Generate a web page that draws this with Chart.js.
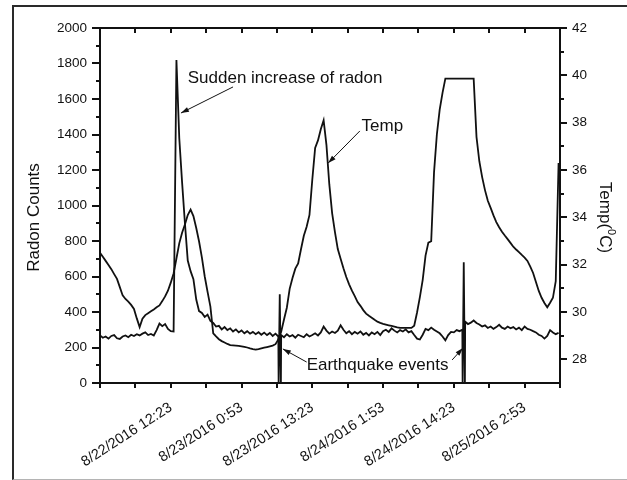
<!DOCTYPE html>
<html>
<head>
<meta charset="utf-8">
<script src="https://cdn.jsdelivr.net/npm/chart.js@4.4.1/dist/chart.umd.min.js"></script>
<style>
  html, body { margin: 0; padding: 0; background: #fff; }
  #wrap { position: relative; width: 627px; height: 480px; overflow: hidden; }
  #frame { position: absolute; left: 12px; top: 5px; width: 640px; height: 472px;
           border-left: 2px solid #2a2a2a; border-top: 2px solid #2a2a2a; border-bottom: 1px solid #b4b4b4;
           pointer-events: none; }
</style>
</head>
<body>
<div id="wrap">
  <canvas id="myChart" width="627" height="480"></canvas>
  <div id="frame"></div>
</div>
<script>
// logger samples every half hour, first sample at 8/21/2016 23:53
const STEP = 0.5;
const X_MAX = 81.25, X_TICK = 6.25;

const radonCounts = [
  268,255,262,250,265,270,252,248,262,268,
  258,272,265,275,268,278,285,270,276,268,
  298,335,320,332,305,292,290,1820,1380,1130,
  900,690,630,585,470,405,395,372,385,350,
  338,318,322,302,315,298,308,290,302,285,
  296,280,292,278,288,275,286,272,284,270,
  282,265,278,262,270,258,275,262,270,255,
  272,265,258,275,262,270,280,268,285,318,
  295,278,290,282,295,325,300,280,292,275,
  288,278,290,272,282,268,285,275,288,270,
  292,300,288,308,295,285,298,290,302,285,
  292,270,250,245,272,305,298,312,300,290,
  280,262,240,270,288,285,298,292,300,345,
  332,340,352,338,330,318,325,310,318,305,
  315,328,312,305,318,308,315,302,312,298,
  318,305,300,292,285,272,265,250,265,298,
  285,275,282
];

const tempC = [
  32.5,32.33,32.16,31.99,31.81,31.6,31.4,31.05,30.7,30.55,
  30.44,30.3,30.13,29.73,29.36,29.72,29.87,29.95,30.03,30.11,
  30.2,30.28,30.46,30.66,30.9,31.24,31.63,32.26,32.9,33.35,
  33.7,34.1,34.33,34.05,33.55,32.98,32.3,31.5,30.85,30.23,
  29.1,28.97,28.85,28.77,28.71,28.65,28.6,28.59,28.58,28.57,
  28.55,28.53,28.5,28.46,28.43,28.41,28.43,28.46,28.49,28.52,
  28.55,28.58,28.64,28.84,29.17,29.68,30.18,30.98,31.44,31.83,
  32.05,32.65,33.22,33.6,34.1,35.6,36.93,37.25,37.72,38.1,
  37.05,35.4,34.18,33.37,32.66,32.25,31.85,31.48,31.17,30.9,
  30.67,30.42,30.26,30.08,29.93,29.84,29.76,29.67,29.59,29.54,
  29.5,29.47,29.44,29.41,29.38,29.35,29.33,29.33,29.33,29.33,
  29.33,29.42,29.98,30.63,31.36,32.38,32.93,32.99,35.9,37.5,
  38.55,39.26,39.86,39.86,39.86,39.86,39.86,39.86,39.86,39.86,
  39.86,39.86,39.86,37.4,36.37,35.7,35.15,34.7,34.4,34.08,
  33.8,33.58,33.39,33.23,33.08,32.92,32.76,32.64,32.53,32.41,
  32.3,32.16,31.92,31.65,31.27,30.89,30.6,30.38,30.2,30.39,
  30.6,31.3,36.3
];

// earthquake pulses in the radon record (hours from start, peak counts)
const quakeHours = [31.75, 64.25];
const quakeCounts = [500, 680];

const xTickLabels = ['8/22/2016 12:23', '8/23/2016 0:53', '8/23/2016 13:23',
                     '8/24/2016 1:53', '8/24/2016 14:23', '8/25/2016 2:53'];

// callouts in data units: [hours, radon counts]
const notes = [
  { text: 'Sudden increase of radon', at: [15.5, 1718], arrows: [[[23.5, 1668], [14.3, 1521]]] },
  { text: 'Temp', at: [46.2, 1448], arrows: [[[45.9, 1420], [40.3, 1239]]] },
  { text: 'Earthquake events', at: [36.5, 101], arrows: [[[36.5, 118], [32.3, 192]], [[62.2, 130], [64.1, 197]]] }
];

const FONT = "'Liberation Sans', Arial, sans-serif";
const INK = '#111';

function radonPoints() {
  let pts = radonCounts.map((v, i) => ({ x: i * STEP, y: v }));
  quakeHours.forEach((h, k) => {
    pts.push({ x: h - 0.2, y: 0 }, { x: h, y: quakeCounts[k] }, { x: h + 0.2, y: 0 });
  });
  return pts.sort((a, b) => a.x - b.x);
}

function arrow(ctx, x1, y1, x2, y2) {
  const ang = Math.atan2(y2 - y1, x2 - x1);
  ctx.beginPath();
  ctx.moveTo(x1, y1);
  ctx.lineTo(x2, y2);
  ctx.stroke();
  ctx.beginPath();
  ctx.moveTo(x2, y2);
  ctx.lineTo(x2 - 8 * Math.cos(ang) + 2.5 * Math.sin(ang), y2 - 8 * Math.sin(ang) - 2.5 * Math.cos(ang));
  ctx.lineTo(x2 - 8 * Math.cos(ang) - 2.5 * Math.sin(ang), y2 - 8 * Math.sin(ang) + 2.5 * Math.cos(ang));
  ctx.closePath();
  ctx.fill();
}

// box, tick marks, callouts and axis titles
const axesFrame = {
  id: 'axesFrame',
  afterDatasetsDraw(chart) {
    const { ctx, chartArea: a, scales } = chart;
    const sx = scales.x, sy = scales.y, sy2 = scales.y2;
    ctx.save();
    ctx.strokeStyle = INK;
    ctx.fillStyle = INK;
    ctx.lineWidth = 2;
    ctx.strokeRect(a.left, a.top, a.right - a.left, a.bottom - a.top);
    ctx.beginPath();
    for (let t = 0; t <= X_MAX + 1e-6; t += X_TICK) {
      const x = Math.round(sx.getPixelForValue(t));
      ctx.moveTo(x, a.top); ctx.lineTo(x, a.top + 5);
      ctx.moveTo(x, a.bottom); ctx.lineTo(x, a.bottom + 5);
    }
    for (let v = 0; v <= 2000; v += 100) {
      const y = Math.round(sy.getPixelForValue(v));
      ctx.moveTo(a.left, y); ctx.lineTo(a.left - (v % 200 ? 4 : 8), y);
    }
    for (let v = 28; v <= 42; v++) {
      const y = Math.round(sy2.getPixelForValue(v));
      ctx.moveTo(a.right, y); ctx.lineTo(a.right + (v % 2 ? 4 : 7), y);
    }
    ctx.stroke();

    ctx.lineWidth = 1;
    ctx.font = '17px ' + FONT;
    ctx.textBaseline = 'middle';
    ctx.textAlign = 'left';
    notes.forEach(n => {
      ctx.fillText(n.text, sx.getPixelForValue(n.at[0]), sy.getPixelForValue(n.at[1]));
      n.arrows.forEach(([p, q]) => {
        arrow(ctx, sx.getPixelForValue(p[0]), sy.getPixelForValue(p[1]),
                   sx.getPixelForValue(q[0]), sy.getPixelForValue(q[1]));
      });
    });

    const midY = (a.top + a.bottom) / 2 + 12;
    // left title, reads bottom to top
    ctx.save();
    ctx.translate(34, midY);
    ctx.rotate(-Math.PI / 2);
    ctx.textAlign = 'center';
    ctx.fillText('Radon Counts', 0, 0);
    ctx.restore();

    // right title with superscript degree zero, reads top to bottom
    ctx.save();
    ctx.translate(605, midY);
    ctx.rotate(Math.PI / 2);
    const big = '17px ' + FONT, small = '11px ' + FONT;
    ctx.font = big;
    const w1 = ctx.measureText('Temp(').width, w3 = ctx.measureText('C)').width;
    ctx.font = small;
    const w2 = ctx.measureText('0').width;
    let x = -(w1 + w2 + w3) / 2;
    ctx.textAlign = 'left';
    ctx.font = big; ctx.fillText('Temp(', x, 0); x += w1;
    ctx.font = small; ctx.fillText('0', x, -6); x += w2;
    ctx.font = big; ctx.fillText('C)', x, 0);
    ctx.restore();

    ctx.restore();
  }
};

let chart = new Chart(document.querySelector('#myChart'), {
  type: 'line',
  data: {
    datasets: [
      {
        label: 'Radon',
        data: radonPoints(),
        yAxisID: 'y',
        borderColor: INK,
        borderWidth: 1.8,
        pointRadius: 0,
        fill: false
      },
      {
        label: 'Temp',
        data: tempC.map((v, i) => ({ x: i * STEP, y: v })),
        yAxisID: 'y2',
        borderColor: INK,
        borderWidth: 1.8,
        pointRadius: 0,
        fill: false
      }
    ]
  },
  options: {
    responsive: false,
    animation: false,
    devicePixelRatio: 1,
    layout: { padding: { top: 28, left: 0, right: 0, bottom: 0 } },
    plugins: { legend: { display: false }, tooltip: { enabled: false } },
    scales: {
      x: {
        type: 'linear',
        min: 0,
        max: X_MAX,
        grid: { display: false, drawTicks: false },
        border: { display: false },
        afterBuildTicks: s => {
          s.ticks = [];
          for (let k = 0; k * X_TICK <= X_MAX + 1e-6; k++) s.ticks.push({ value: k * X_TICK });
        },
        ticks: {
          autoSkip: false,
          minRotation: 33,
          maxRotation: 33,
          padding: 16,
          color: INK,
          font: { family: FONT, size: 14.5 },
          callback: (v, i) => (i >= 2 && i % 2 === 0) ? xTickLabels[i / 2 - 1] : ''
        },
        afterFit: s => { s.height = 97; }
      },
      y: {
        position: 'left',
        min: 0,
        max: 2000,
        grid: { display: false, drawTicks: false },
        border: { display: false },
        afterBuildTicks: s => {
          s.ticks = [];
          for (let v = 0; v <= 2000; v += 200) s.ticks.push({ value: v });
        },
        ticks: { padding: 13, color: INK, font: { family: FONT, size: 13.5 }, callback: v => String(v) },
        afterFit: s => { s.width = 100; }
      },
      y2: {
        position: 'right',
        min: 27,
        max: 42,
        grid: { display: false, drawTicks: false },
        border: { display: false },
        afterBuildTicks: s => {
          s.ticks = [];
          for (let v = 28; v <= 42; v += 2) s.ticks.push({ value: v });
        },
        ticks: { padding: 12, color: INK, font: { family: FONT, size: 13.5 }, callback: v => String(v) },
        afterFit: s => { s.width = 67; }
      }
    }
  },
  plugins: [axesFrame]
});
</script>
</body>
</html>
